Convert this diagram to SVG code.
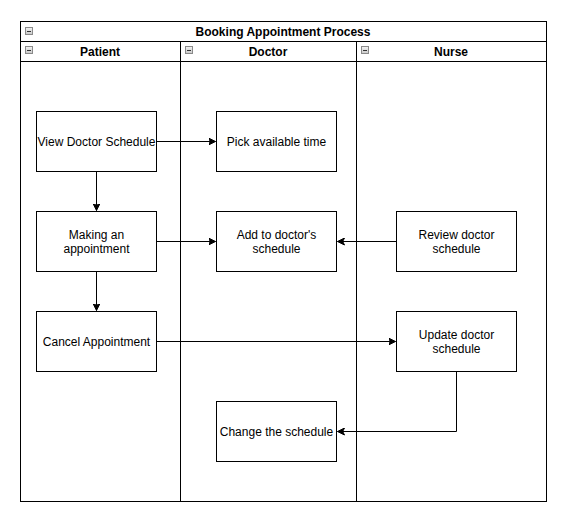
<svg xmlns="http://www.w3.org/2000/svg" width="578" height="522" viewBox="0 0 578 522">
<style>
.lane{fill:none;stroke:#000;stroke-width:1}
.box{fill:#fff;stroke:#000;stroke-width:1}
.t{font-family:"Liberation Sans",Arial,Helvetica,sans-serif;font-size:12px;fill:#000;text-anchor:middle;dominant-baseline:central}
.h{font-weight:bold}
.edge{fill:none;stroke:#000;stroke-width:1}
.icon{fill:url(#ig);stroke:#8a8a8a;stroke-width:1}
.minus{stroke:#333;stroke-width:1}
</style>
<defs>
<linearGradient id="ig" x1="0" y1="0" x2="0" y2="1">
<stop offset="0" stop-color="#f4f4f4"/>
<stop offset="1" stop-color="#c8c8c8"/>
</linearGradient>
<marker id="arr" markerWidth="8" markerHeight="8" refX="7" refY="4" orient="auto" markerUnits="userSpaceOnUse">
<path d="M0,0.5 L7,4 L0,7.5 L1.8,4 Z" fill="#000" stroke="#000" stroke-width="1"/>
</marker>
</defs>
<rect width="578" height="522" fill="#fff"/>
<g id="pool">
<rect class="lane" x="20.5" y="21.5" width="526" height="480"/>
<line class="lane" x1="20.5" y1="41.5" x2="546.5" y2="41.5"/>
<line class="lane" x1="20.5" y1="61.5" x2="546.5" y2="61.5"/>
<line class="lane" x1="180.5" y1="41.5" x2="180.5" y2="501.5"/>
<line class="lane" x1="356.5" y1="41.5" x2="356.5" y2="501.5"/>
<rect class="icon" x="25.5" y="27.5" width="7" height="7"/>
<line class="minus" x1="27" y1="31.5" x2="31" y2="31.5"/>
<text class="t h" x="283" y="31.5">Booking Appointment Process</text>
</g>
<g id="lane-patient">
<rect class="icon" x="25.5" y="46.5" width="7" height="7"/>
<line class="minus" x1="27" y1="50.5" x2="31" y2="50.5"/>
<text class="t h" x="100" y="51.5">Patient</text>
</g>
<g id="lane-doctor">
<rect class="icon" x="185.5" y="46.5" width="7" height="7"/>
<line class="minus" x1="187" y1="50.5" x2="191" y2="50.5"/>
<text class="t h" x="268" y="51.5">Doctor</text>
</g>
<g id="lane-nurse">
<rect class="icon" x="361.5" y="46.5" width="7" height="7"/>
<line class="minus" x1="363" y1="50.5" x2="367" y2="50.5"/>
<text class="t h" x="451" y="51.5">Nurse</text>
</g>
<g id="connectors">
<line class="edge" x1="156.5" y1="141.5" x2="215.5" y2="141.5" marker-end="url(#arr)"/>
<line class="edge" x1="96.5" y1="171.5" x2="96.5" y2="210.5" marker-end="url(#arr)"/>
<line class="edge" x1="156.5" y1="241.5" x2="215.5" y2="241.5" marker-end="url(#arr)"/>
<line class="edge" x1="96.5" y1="271.5" x2="96.5" y2="310.5" marker-end="url(#arr)"/>
<line class="edge" x1="396.5" y1="241.5" x2="337.5" y2="241.5" marker-end="url(#arr)"/>
<line class="edge" x1="156.5" y1="341.5" x2="395.5" y2="341.5" marker-end="url(#arr)"/>
<polyline class="edge" points="456.5,371.5 456.5,431.5 337.5,431.5" marker-end="url(#arr)"/>
</g>
<g id="view-schedule">
<rect class="box" x="36.5" y="111.5" width="120" height="60"/>
<text class="t" x="96.5" y="141.5">View Doctor Schedule</text>
</g>
<g id="making-appointment">
<rect class="box" x="36.5" y="211.5" width="120" height="60"/>
<text class="t" x="96.5" y="234.5">Making an</text>
<text class="t" x="96.5" y="248.5">appointment</text>
</g>
<g id="cancel-appointment">
<rect class="box" x="36.5" y="311.5" width="120" height="60"/>
<text class="t" x="96.5" y="341.5">Cancel Appointment</text>
</g>
<g id="pick-time">
<rect class="box" x="216.5" y="111.5" width="120" height="60"/>
<text class="t" x="276.5" y="141.5">Pick available time</text>
</g>
<g id="add-schedule">
<rect class="box" x="216.5" y="211.5" width="120" height="60"/>
<text class="t" x="276.5" y="234.5">Add to doctor's</text>
<text class="t" x="276.5" y="248.5">schedule</text>
</g>
<g id="change-schedule">
<rect class="box" x="216.5" y="401.5" width="120" height="60"/>
<text class="t" x="276.5" y="431.5">Change the schedule</text>
</g>
<g id="review-schedule">
<rect class="box" x="396.5" y="211.5" width="120" height="60"/>
<text class="t" x="456.5" y="234.5">Review doctor</text>
<text class="t" x="456.5" y="248.5">schedule</text>
</g>
<g id="update-schedule">
<rect class="box" x="396.5" y="311.5" width="120" height="60"/>
<text class="t" x="456.5" y="334.5">Update doctor</text>
<text class="t" x="456.5" y="348.5">schedule</text>
</g>
</svg>
